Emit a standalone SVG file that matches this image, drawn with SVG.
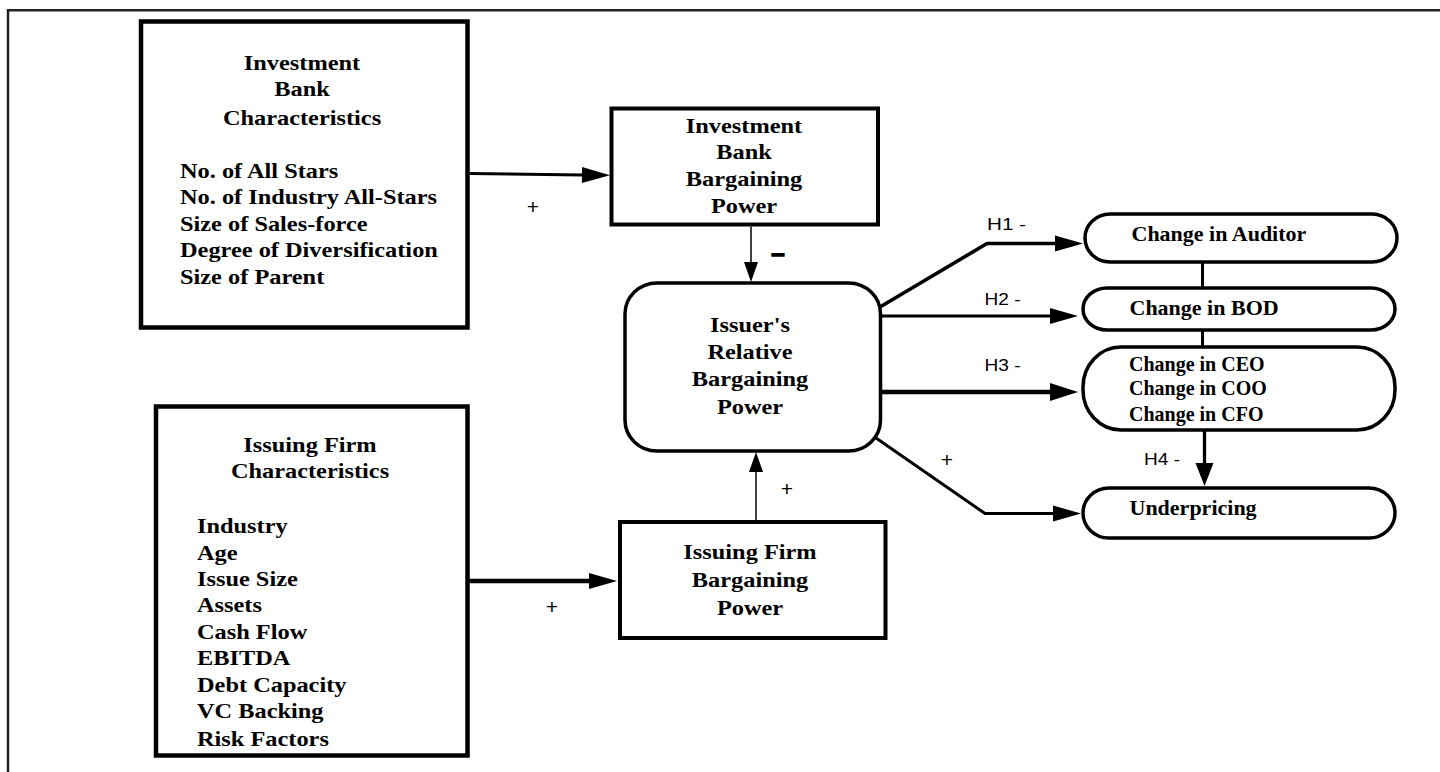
<svg xmlns="http://www.w3.org/2000/svg" width="1440" height="772" viewBox="0 0 1440 772">
<style>
  .bg { fill: #ffffff; }
  .frame { stroke: #222; stroke-width: 2.5; fill: none; }
  .box { fill: #fff; stroke: #000; stroke-width: 4.5; }
  .bbox { fill: #fff; stroke: #000; stroke-width: 4; }
  .rbox { fill: #fff; stroke: #000; stroke-width: 3.5; }
  .t { font-family: "Liberation Serif", "Times New Roman", serif; font-weight: bold; font-size: 21px; fill: #000; }
  .tr { font-family: "Liberation Serif", "Times New Roman", serif; font-weight: bold; font-size: 22px; fill: #000; }
  .ts { font-family: "Liberation Serif", "Times New Roman", serif; font-weight: bold; font-size: 20px; fill: #000; }
  .c { text-anchor: middle; }
  .lbl { font-family: "Liberation Sans", Arial, sans-serif; font-size: 16px; fill: #000; }
  .plus { font-family: "Liberation Sans", Arial, sans-serif; font-size: 21px; fill: #000; text-anchor: middle; }
  .ln { fill: none; stroke: #000; }
</style>
<defs>
  <marker id="ah" markerUnits="userSpaceOnUse" markerWidth="28" markerHeight="16" refX="1" refY="8" orient="auto" overflow="visible">
    <path d="M0,0 L28,8 L0,16 z" fill="#000"/>
  </marker>
  <marker id="ah9" markerUnits="userSpaceOnUse" markerWidth="28" markerHeight="18" refX="1" refY="9" orient="auto" overflow="visible">
    <path d="M0,0 L28,9 L0,18 z" fill="#000"/>
  </marker>
  <marker id="av" markerUnits="userSpaceOnUse" markerWidth="20" markerHeight="14" refX="1" refY="7" orient="auto" overflow="visible">
    <path d="M0,0 L20,7 L0,14 z" fill="#000"/>
  </marker>
  <marker id="av9" markerUnits="userSpaceOnUse" markerWidth="23" markerHeight="18" refX="1" refY="9" orient="auto" overflow="visible">
    <path d="M0,0 L23,9 L0,18 z" fill="#000"/>
  </marker>
</defs>
<rect class="bg" x="0" y="0" width="1440" height="772"/>
<path class="frame" d="M8,772 L8,10.3 L1440,10.3"/>

<g id="ib-characteristics">
  <rect class="box" x="141" y="21.5" width="326.5" height="306"/>
  <text class="t c" transform="translate(302,70) scale(1.16,1)">Investment</text>
  <text class="t c" transform="translate(302,96) scale(1.16,1)">Bank</text>
  <text class="t c" transform="translate(302,125) scale(1.16,1)">Characteristics</text>
  <text class="t" transform="translate(180,178) scale(1.16,1)">No. of All Stars</text>
  <text class="t" transform="translate(180,204) scale(1.16,1)">No. of Industry All-Stars</text>
  <text class="t" transform="translate(180,231) scale(1.16,1)">Size of Sales-force</text>
  <text class="t" transform="translate(180,257) scale(1.16,1)">Degree of Diversification</text>
  <text class="t" transform="translate(180,283.5) scale(1.16,1)">Size of Parent</text>
</g>

<g id="if-characteristics">
  <rect class="box" x="156" y="406.5" width="311.5" height="349"/>
  <text class="t c" transform="translate(310,452) scale(1.16,1)">Issuing Firm</text>
  <text class="t c" transform="translate(310,477.5) scale(1.16,1)">Characteristics</text>
  <text class="t" transform="translate(197,533) scale(1.16,1)">Industry</text>
  <text class="t" transform="translate(197,559.5) scale(1.16,1)">Age</text>
  <text class="t" transform="translate(197,586) scale(1.16,1)">Issue Size</text>
  <text class="t" transform="translate(197,612) scale(1.16,1)">Assets</text>
  <text class="t" transform="translate(197,638.5) scale(1.16,1)">Cash Flow</text>
  <text class="t" transform="translate(197,664.5) scale(1.16,1)">EBITDA</text>
  <text class="t" transform="translate(197,691.5) scale(1.16,1)">Debt Capacity</text>
  <text class="t" transform="translate(197,717.5) scale(1.16,1)">VC Backing</text>
  <text class="t" transform="translate(197,746) scale(1.16,1)">Risk Factors</text>
</g>

<g id="ib-bargaining-power">
  <rect class="bbox" x="611.5" y="108.5" width="266.5" height="116"/>
  <text class="t c" transform="translate(744,132.5) scale(1.16,1)">Investment</text>
  <text class="t c" transform="translate(744,159) scale(1.16,1)">Bank</text>
  <text class="t c" transform="translate(744,185.5) scale(1.16,1)">Bargaining</text>
  <text class="t c" transform="translate(744,213) scale(1.16,1)">Power</text>
</g>

<g id="issuer-relative-power">
  <rect class="rbox" x="625" y="283" width="255.5" height="168" rx="32" ry="31"/>
  <text class="t c" transform="translate(750,331.5) scale(1.16,1)">Issuer's</text>
  <text class="t c" transform="translate(750,358.5) scale(1.16,1)">Relative</text>
  <text class="t c" transform="translate(750,386) scale(1.16,1)">Bargaining</text>
  <text class="t c" transform="translate(750,413.5) scale(1.16,1)">Power</text>
</g>

<g id="if-bargaining-power">
  <rect class="bbox" x="620" y="522" width="265.5" height="116"/>
  <text class="t c" transform="translate(750,558.5) scale(1.16,1)">Issuing Firm</text>
  <text class="t c" transform="translate(750,586.5) scale(1.16,1)">Bargaining</text>
  <text class="t c" transform="translate(750,614.5) scale(1.16,1)">Power</text>
</g>

<g id="change-auditor">
  <rect class="rbox" x="1085" y="214" width="312" height="48" rx="25" ry="24"/>
  <text class="tr" x="1131.5" y="240.5">Change in Auditor</text>
</g>

<g id="change-bod">
  <rect class="rbox" x="1083" y="288" width="312" height="42" rx="24" ry="21"/>
  <text class="tr" x="1129.5" y="315">Change in BOD</text>
</g>

<g id="change-officers">
  <rect class="rbox" x="1083" y="347" width="312" height="83" rx="38" ry="40"/>
  <text class="ts" x="1129" y="370.5">Change in CEO</text>
  <text class="ts" x="1129" y="394.5">Change in COO</text>
  <text class="ts" x="1129" y="420.5">Change in CFO</text>
</g>

<g id="underpricing">
  <rect class="rbox" x="1083" y="488" width="312" height="50" rx="26" ry="25"/>
  <text class="tr" x="1129.5" y="515">Underpricing</text>
</g>

<g id="connectors">
  <path class="ln" stroke-width="3" d="M469,173.5 L583,175" marker-end="url(#ah)"/>
  <path class="ln" stroke-width="4.5" d="M469,581 L590,581" marker-end="url(#ah)"/>
  <path class="ln" stroke-width="1.5" d="M751,226.5 L751,263" marker-end="url(#av)"/>
  <path class="ln" stroke-width="1.5" d="M756,520 L756,471" marker-end="url(#av)"/>
  <path class="ln" stroke-width="3.6" d="M880,307 L987,243.5 L1056,243.5" marker-end="url(#ah)"/>
  <path class="ln" stroke-width="2.8" d="M881,316 L1051,316" marker-end="url(#ah)"/>
  <path class="ln" stroke-width="4.7" d="M881,392 L1051,392" marker-end="url(#ah9)"/>
  <path class="ln" stroke-width="3" d="M876,438 L985,513.5 L1054,513.5" marker-end="url(#ah)"/>
  <path class="ln" stroke-width="3.3" d="M1204.5,430 L1204.5,464" marker-end="url(#av9)"/>
  <path class="ln" stroke-width="3" d="M1202.5,262 L1202.5,288"/>
  <path class="ln" stroke-width="3" d="M1202.5,330 L1202.5,347"/>
</g>

<g id="labels">
  <text class="plus" x="533" y="214">+</text>
  <text class="plus" x="552" y="614">+</text>
  <text class="plus" x="787" y="496">+</text>
  <text class="plus" x="947" y="467">+</text>
  <text x="778" y="261" text-anchor="middle" font-family="Liberation Sans, Arial, sans-serif" font-weight="bold" font-size="24" stroke="#000" stroke-width="1.4">–</text>
  <text class="lbl" x="987" y="229.5" textLength="39" lengthAdjust="spacingAndGlyphs">H1 -</text>
  <text class="lbl" x="984.5" y="304.5" textLength="36" lengthAdjust="spacingAndGlyphs">H2 -</text>
  <text class="lbl" x="984.5" y="371" textLength="36" lengthAdjust="spacingAndGlyphs">H3 -</text>
  <text class="lbl" x="1144" y="465" textLength="36" lengthAdjust="spacingAndGlyphs">H4 -</text>
</g>
</svg>
